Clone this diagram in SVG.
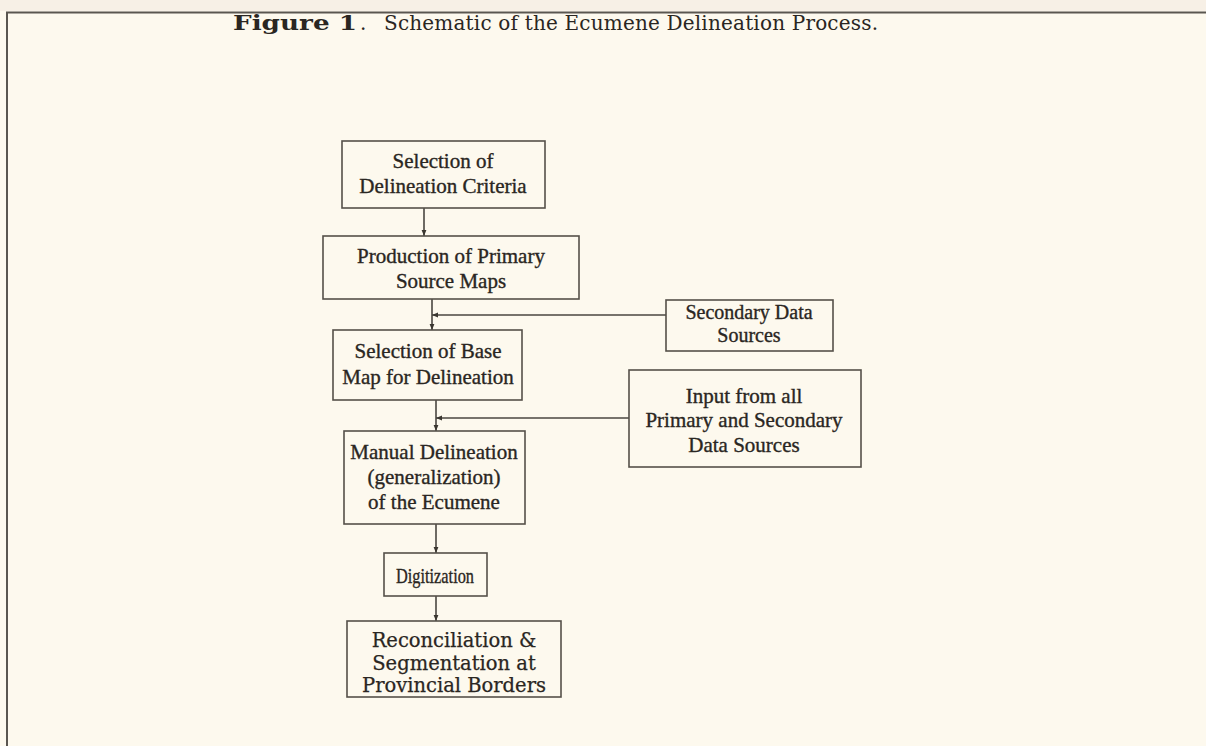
<svg xmlns="http://www.w3.org/2000/svg" width="1206" height="746" viewBox="0 0 1206 746">
<style>
.box{fill:none;stroke:#555049;stroke-width:1.6}
.t{font-family:"Liberation Serif","Times New Roman",serif;font-size:21px;fill:#2a2622;stroke:#2a2622;stroke-width:0.35;text-anchor:middle}
.w{font-family:"DejaVu Serif","Liberation Serif",serif;font-size:19.5px;fill:#2a2622;stroke:#2a2622;stroke-width:0.25;text-anchor:middle}
.c{fill:none;stroke:#4a4640;stroke-width:1.6}
</style>
<defs>
<marker id="ah" viewBox="0 0 10 10" refX="10" refY="5" markerWidth="6" markerHeight="6" orient="auto" markerUnits="userSpaceOnUse"><path d="M0,1 L10,5 L0,9 z" fill="#3a3630"/></marker>
</defs>
<rect width="1206" height="746" fill="#fdf9ee"/>
<rect width="1206" height="11" fill="#f7f0e6"/>
<line x1="6" y1="12.5" x2="1206" y2="12.5" stroke="#5a5650" stroke-width="2"/>
<line x1="7" y1="12" x2="7" y2="746" stroke="#5a5650" stroke-width="2"/>
<g font-family="DejaVu Serif, Liberation Serif, serif" fill="#2a2622">
<text x="233" y="30" font-size="21" font-weight="bold" textLength="124" lengthAdjust="spacingAndGlyphs">Figure 1</text>
<text x="360" y="30" font-size="20">.</text>
<text x="384" y="30" font-size="20" textLength="494" lengthAdjust="spacing">Schematic of the Ecumene Delineation Process.</text>
</g>
<g id="connectors">
<line class="c" x1="424" y1="208" x2="424" y2="236" marker-end="url(#ah)"/>
<line class="c" x1="432" y1="299" x2="432" y2="330" marker-end="url(#ah)"/>
<line class="c" x1="666" y1="315" x2="432" y2="315" marker-end="url(#ah)"/>
<line class="c" x1="436" y1="400" x2="436" y2="431" marker-end="url(#ah)"/>
<line class="c" x1="629" y1="418" x2="436" y2="418" marker-end="url(#ah)"/>
<line class="c" x1="436" y1="524" x2="436" y2="553" marker-end="url(#ah)"/>
<line class="c" x1="436" y1="596" x2="436" y2="621" marker-end="url(#ah)"/>
</g>
<g id="n1"><rect class="box" x="342" y="141" width="203" height="67"/><text class="t" x="443" y="168">Selection of</text><text class="t" x="443" y="193">Delineation Criteria</text></g>
<g id="n2"><rect class="box" x="323" y="236" width="256" height="63"/><text class="t" x="451" y="263">Production of Primary</text><text class="t" x="451" y="288">Source Maps</text></g>
<g id="n3"><rect class="box" x="333" y="330" width="189" height="70"/><text class="t" x="428" y="358">Selection of Base</text><text class="t" x="428" y="384">Map for Delineation</text></g>
<g id="n4"><rect class="box" x="344" y="431" width="181" height="93"/><text class="t" x="434" y="459">Manual Delineation</text><text class="t" x="434" y="484">(generalization)</text><text class="t" x="434" y="509">of the Ecumene</text></g>
<g id="n5"><rect class="box" x="384" y="553" width="103" height="43"/><text class="t" x="435" y="583" textLength="78" lengthAdjust="spacingAndGlyphs">Digitization</text></g>
<g id="n6"><rect class="box" x="347" y="621" width="214" height="76"/><text class="w" x="454" y="647">Reconciliation &amp;</text><text class="w" x="454" y="670">Segmentation at</text><text class="w" x="454" y="692">Provincial Borders</text></g>
<g id="s1"><rect class="box" x="666" y="300" width="167" height="51"/><text class="t" x="749" y="319" style="font-size:20px">Secondary Data</text><text class="t" x="749" y="342" style="font-size:20px">Sources</text></g>
<g id="s2"><rect class="box" x="629" y="370" width="232" height="97"/><text class="t" x="744" y="403">Input from all</text><text class="t" x="744" y="427">Primary and Secondary</text><text class="t" x="744" y="452">Data Sources</text></g>
</svg>
